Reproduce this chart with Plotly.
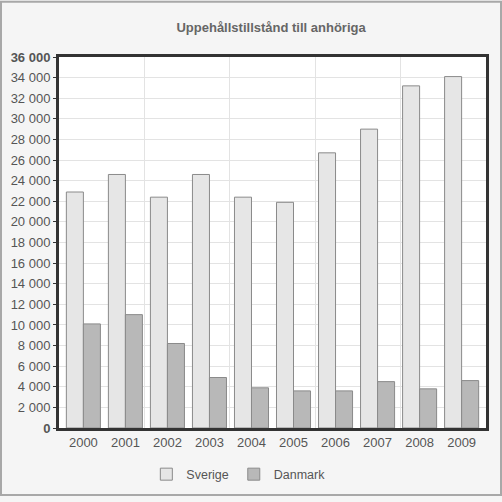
import plotly.graph_objects as go

years = ["2000", "2001", "2002", "2003", "2004", "2005", "2006", "2007", "2008", "2009"]
sverige = [22900, 24600, 22400, 24600, 22400, 21900, 26700, 29000, 33200, 34100]
danmark = [10100, 11000, 8200, 4900, 3900, 3600, 3600, 4500, 3800, 4600]
y_ticks = list(range(0, 36001, 2000))
y_labels = [("<b>%s</b>" % f"{v:,}".replace(",", " ")) if v in (0, 36000) else f"{v:,}".replace(",", " ") for v in y_ticks]

xpos = list(range(len(years)))

fig = go.Figure()
fig.add_trace(go.Bar(name="Sverige", x=xpos, y=sverige,
                     marker=dict(color="#e6e6e6", line=dict(color="#8a8a8a", width=1))))
fig.add_trace(go.Bar(name="Danmark", x=xpos, y=danmark,
                     marker=dict(color="#b8b8b8", line=dict(color="#8a8a8a", width=1))))
# invisible trace to drive the second x axis (vertical gridlines every two categories)
fig.add_trace(go.Scatter(x=[-0.5, 9.5], y=[0, 0], xaxis="x2", mode="lines",
                         line=dict(width=0), showlegend=False, hoverinfo="skip"))

T, B, L, R = 57, 69, 59, 16
ph = 502 - T - B
pw = 502 - L - R

font = "Liberation Sans, Arial, sans-serif"
fig.update_layout(
    width=502, height=502,
    margin=dict(l=L, r=R, t=T, b=B),
    paper_bgcolor="#f5f5f5", plot_bgcolor="#ffffff",
    barmode="group", bargap=0.19, bargroupgap=0,
    title=dict(text="<b>Uppehållstillstånd till anhöriga</b>", x=0.54, xanchor="center",
               y=0.946, yanchor="middle", font=dict(family=font, size=13, color="#666666")),
    font=dict(family=font, size=12, color="#555555"),
    xaxis=dict(range=[-0.58, 9.58], tickvals=xpos, ticktext=years, showgrid=False,
               showline=True, linecolor="#333333", linewidth=3, mirror=True, ticks="",
               zeroline=False, tickfont=dict(size=13, color="#555555"), fixedrange=True),
    xaxis2=dict(range=[-0.58, 9.58], overlaying="x", tickvals=[1.45, 3.47, 5.52, 7.54],
                showticklabels=False, showgrid=True, gridcolor="#e3e3e3", gridwidth=1,
                zeroline=False, showline=False, side="bottom"),
    yaxis=dict(range=[0, 36000], tickvals=y_ticks, ticktext=y_labels, showgrid=True,
               gridcolor="#e3e3e3", gridwidth=1, showline=True, linecolor="#333333",
               linewidth=3, mirror=True, ticks="outside", ticklen=3, tickcolor="#333333",
               zeroline=False, tickfont=dict(size=13, color="#555555")),
    legend=dict(orientation="h", x=0.42, xanchor="center", y=-0.085, yanchor="top",
                font=dict(size=12.5, color="#555555"), bgcolor="rgba(0,0,0,0)",
                itemwidth=30, traceorder="normal"),
    showlegend=True,
    shapes=[dict(type="rect", xref="paper", yref="paper",
                 x0=(1 - L) / pw, x1=(501 - L) / pw,
                 y0=(502 - B - 501) / ph, y1=(502 - B - 1) / ph,
                 line=dict(color="#a8a8a8", width=2), fillcolor="rgba(0,0,0,0)", layer="below")],
)

fig.write_html("out.html", config={"displayModeBar": False},
               post_script="document.body.style.margin='0';document.body.style.padding='0';")
